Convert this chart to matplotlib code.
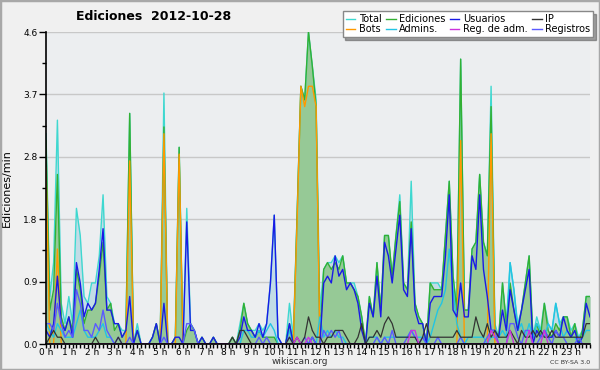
import matplotlib
matplotlib.use("Agg")
import matplotlib.pyplot as plt
from matplotlib.ticker import MultipleLocator, FixedLocator
import numpy as np

# 10-minute slots over the day (144 points)
total = [3.1,0.7,1.2,3.3,0.6,0.3,0.7,0.3,2.0,1.6,0.7,0.6,0.9,0.9,1.3,2.2,0.7,0.6,0.3,0.3,
         0.2,0.2,3.4,0.0,0.3,0.0,0.0,0.0,0.1,0.3,0.0,3.7,0.0,0.0,0.1,2.9,0.0,2.0,0.3,0.2,
         0.0,0.1,0.0,0.0,0.1,0.0,0.0,0.0,0.0,0.1,0.0,0.3,0.6,0.3,0.2,0.2,0.3,0.2,0.3,0.9,
         1.9,0.1,0.0,0.0,0.6,0.1,1.9,3.8,3.6,4.6,4.1,3.6,0.5,1.1,1.2,1.2,1.3,1.2,1.3,0.9,
         0.9,0.9,0.7,0.4,0.0,0.7,0.4,1.2,0.5,1.6,1.6,1.0,1.6,2.2,0.9,0.8,2.4,0.6,0.4,0.3,
         0.0,0.9,0.9,0.9,0.8,1.6,2.4,1.0,0.5,4.2,0.5,0.5,1.4,1.5,2.5,1.5,1.3,3.8,0.3,0.1,
         0.9,0.3,1.2,0.8,0.3,0.5,0.9,1.3,0.1,0.4,0.2,0.6,0.3,0.2,0.6,0.3,0.4,0.4,0.2,0.3,
         0.1,0.2,0.7,0.7]
ediciones = [3.0,0.5,0.8,2.5,0.4,0.2,0.4,0.2,1.1,0.8,0.3,0.5,0.5,0.6,1.0,1.5,0.5,0.6,0.2,0.3,
             0.1,0.2,3.4,0.0,0.2,0.0,0.0,0.0,0.1,0.3,0.0,3.2,0.0,0.0,0.1,2.9,0.0,0.2,0.3,0.2,
             0.0,0.1,0.0,0.0,0.1,0.0,0.0,0.0,0.0,0.1,0.0,0.2,0.6,0.3,0.2,0.1,0.2,0.1,0.1,0.1,
             0.1,0.0,0.0,0.0,0.3,0.0,1.9,3.8,3.6,4.6,4.1,3.5,0.1,1.1,1.2,1.1,1.2,1.1,1.3,0.9,
             0.9,0.8,0.7,0.4,0.0,0.7,0.4,1.2,0.5,1.6,1.6,1.0,1.6,2.1,0.9,0.8,1.8,0.6,0.4,0.3,
             0.0,0.9,0.8,0.8,0.8,1.6,2.4,1.0,0.5,4.2,0.5,0.5,1.4,1.5,2.5,1.5,1.3,3.5,0.2,0.1,
             0.9,0.3,0.9,0.5,0.2,0.5,0.9,1.3,0.1,0.3,0.1,0.6,0.2,0.1,0.3,0.2,0.4,0.4,0.1,0.3,
             0.0,0.2,0.7,0.7]
bots = [2.6,0.0,0.0,1.4,0.0,0.0,0.0,0.0,0.0,0.0,0.0,0.0,0.0,0.0,0.0,0.0,0.0,0.0,0.0,0.0,
        0.0,0.0,2.7,0.0,0.0,0.0,0.0,0.0,0.0,0.0,0.0,3.1,0.0,0.0,0.0,2.8,0.0,0.0,0.0,0.0,
        0.0,0.0,0.0,0.0,0.0,0.0,0.0,0.0,0.0,0.0,0.0,0.0,0.0,0.0,0.0,0.0,0.0,0.0,0.0,0.0,
        0.0,0.0,0.0,0.0,0.0,0.0,1.8,3.8,3.5,3.8,3.8,3.5,0.0,0.0,0.0,0.0,0.0,0.0,0.0,0.0,
        0.0,0.0,0.0,0.0,0.0,0.0,0.0,0.0,0.0,0.0,0.0,0.0,0.0,0.0,0.0,0.0,0.0,0.0,0.0,0.0,
        0.0,0.0,0.0,0.0,0.0,0.0,0.0,0.0,0.0,3.0,0.0,0.0,0.0,0.0,0.0,0.0,0.0,3.1,0.0,0.0,
        0.0,0.0,0.0,0.0,0.0,0.0,0.0,0.0,0.0,0.0,0.0,0.0,0.0,0.0,0.0,0.0,0.0,0.0,0.0,0.0,
        0.0,0.0,0.0,0.0]
usuarios = [0.2,0.1,0.3,1.0,0.3,0.2,0.4,0.1,1.2,0.9,0.4,0.6,0.5,0.6,1.1,1.7,0.5,0.5,0.3,0.3,
            0.1,0.2,0.7,0.0,0.2,0.0,0.0,0.0,0.1,0.3,0.0,0.6,0.0,0.0,0.1,0.1,0.0,1.8,0.2,0.2,
            0.0,0.1,0.0,0.0,0.1,0.0,0.0,0.0,0.0,0.0,0.0,0.1,0.4,0.2,0.2,0.1,0.3,0.1,0.3,0.9,
            1.9,0.1,0.0,0.0,0.3,0.0,0.0,0.0,0.0,0.0,0.1,0.0,0.0,0.9,1.0,0.9,1.3,1.0,1.1,0.8,
            0.9,0.8,0.6,0.2,0.0,0.6,0.4,1.0,0.4,1.5,1.3,0.9,1.4,1.9,0.8,0.7,1.7,0.5,0.3,0.3,
            0.0,0.6,0.7,0.7,0.7,1.3,2.2,0.5,0.4,0.9,0.4,0.4,1.3,1.1,2.2,1.1,0.7,0.2,0.2,0.1,
            0.5,0.2,0.8,0.5,0.2,0.5,0.8,1.1,0.0,0.2,0.1,0.2,0.1,0.1,0.2,0.1,0.4,0.2,0.1,0.2,
            0.0,0.1,0.6,0.4]
ip = [0.0,0.1,0.2,0.1,0.1,0.0,0.0,0.0,0.0,0.0,0.0,0.0,0.0,0.1,0.0,0.0,0.0,0.0,0.0,0.1,
      0.0,0.0,0.0,0.0,0.0,0.0,0.0,0.0,0.0,0.0,0.0,0.0,0.0,0.0,0.0,0.0,0.0,0.0,0.0,0.0,
      0.0,0.0,0.0,0.0,0.0,0.0,0.0,0.0,0.0,0.1,0.0,0.2,0.2,0.1,0.0,0.0,0.0,0.0,0.0,0.0,
      0.0,0.0,0.0,0.0,0.1,0.0,0.1,0.0,0.1,0.4,0.2,0.1,0.1,0.0,0.1,0.1,0.2,0.2,0.2,0.1,
      0.0,0.0,0.1,0.3,0.0,0.1,0.1,0.2,0.1,0.3,0.4,0.3,0.1,0.1,0.1,0.1,0.1,0.1,0.0,0.1,
      0.3,0.1,0.1,0.1,0.1,0.1,0.1,0.1,0.2,0.1,0.1,0.1,0.1,0.4,0.2,0.1,0.3,0.1,0.2,0.1,
      0.1,0.1,0.2,0.1,0.0,0.2,0.1,0.1,0.2,0.1,0.2,0.1,0.1,0.2,0.1,0.1,0.1,0.1,0.1,0.1,
      0.1,0.1,0.3,0.3]
admins = [0.3,0.2,0.1,0.3,0.2,0.1,0.1,0.1,0.3,0.5,0.2,0.1,0.1,0.1,0.2,0.3,0.1,0.1,0.0,0.0,
          0.0,0.0,0.0,0.0,0.0,0.0,0.0,0.0,0.0,0.0,0.0,0.0,0.0,0.0,0.0,0.0,0.0,0.0,0.0,0.0,
          0.0,0.0,0.0,0.0,0.0,0.0,0.0,0.0,0.0,0.0,0.0,0.0,0.2,0.2,0.1,0.1,0.2,0.1,0.2,0.3,
          0.2,0.0,0.0,0.0,0.2,0.0,0.0,0.0,0.0,0.0,0.0,0.0,0.4,0.1,0.2,0.1,0.2,0.1,0.1,0.0,
          0.0,0.0,0.0,0.0,0.0,0.1,0.1,0.1,0.0,0.1,0.1,0.1,0.1,0.1,0.1,0.1,0.2,0.1,0.1,0.1,
          0.0,0.1,0.3,0.5,0.6,0.8,1.4,0.8,0.3,0.1,0.0,0.1,0.1,0.1,0.1,0.1,0.0,0.1,0.1,0.1,
          0.2,0.1,1.2,0.8,0.2,0.3,0.1,0.3,0.1,0.3,0.2,0.1,0.3,0.2,0.6,0.3,0.1,0.2,0.1,0.1,
          0.0,0.1,0.2,0.2]
reg_adm = [0.0]*144
for _i, _v in [(66,0.1),(69,0.1),(96,0.2),(97,0.2),(117,0.2),(118,0.1),(122,0.2),(127,0.2),(131,0.2)]:
    reg_adm[_i] = _v
registros = [0.3,0.3,0.2,0.6,0.3,0.1,0.2,0.1,0.8,0.6,0.2,0.2,0.1,0.3,0.2,0.5,0.2,0.1,0.0,0.1,
             0.0,0.0,0.1,0.0,0.0,0.0,0.0,0.0,0.0,0.0,0.0,0.1,0.0,0.0,0.0,0.0,0.0,0.3,0.3,0.2,
             0.0,0.0,0.0,0.0,0.0,0.0,0.0,0.0,0.0,0.0,0.0,0.0,0.0,0.0,0.0,0.0,0.1,0.0,0.1,0.0,
             0.0,0.0,0.0,0.0,0.1,0.0,0.0,0.0,0.1,0.0,0.1,0.0,0.0,0.2,0.1,0.2,0.1,0.2,0.0,0.0,
             0.0,0.0,0.0,0.0,0.0,0.0,0.0,0.1,0.0,0.1,0.0,0.2,0.0,0.0,0.0,0.1,0.2,0.1,0.0,0.1,
             0.0,0.0,0.0,0.1,0.0,0.0,0.0,0.0,0.0,0.1,0.0,0.0,0.0,0.0,0.0,0.0,0.1,0.2,0.2,0.0,
             0.0,0.0,0.3,0.3,0.1,0.0,0.2,0.2,0.0,0.0,0.1,0.2,0.1,0.0,0.2,0.1,0.1,0.0,0.0,0.0,
             0.1,0.0,0.0,0.0]
hour_labels = [f"{h} h" for h in range(24)]
y_ticks = [0.0, 0.92, 1.84, 2.76, 3.68, 4.6]
y_tick_labels = ["0.0", "0.9", "1.8", "2.8", "3.7", "4.6"]

x = np.arange(len(total))

fig = plt.figure(figsize=(6, 3.7), dpi=100, facecolor="#f0f0f0")
fig.patches.append(plt.Rectangle((0, 0), 1, 1, transform=fig.transFigure,
                                 fill=False, edgecolor="#a8a8a8", linewidth=2.5))
ax = fig.add_axes([46/600, 26/370, 544/600, 312/370])
ax.set_facecolor("#eceef0")

ax.fill_between(x, total, color="#c2dce6", linewidth=0, zorder=1)
ax.fill_between(x, ediciones, color="#96c996", linewidth=0, zorder=2)
ax.plot(x, total, color="#3ed8d0", lw=1.0, zorder=3, label="Total")
ax.plot(x, ediciones, color="#33b033", lw=1.0, zorder=4, label="Ediciones")
ax.plot(x, bots, color="#ff9900", lw=1.0, zorder=5, label="Bots")
ax.plot(x, admins, color="#22c4e4", lw=1.0, zorder=6, label="Admins.")
ax.plot(x, usuarios, color="#1a1ae6", lw=1.0, zorder=7, label="Usuarios")
ax.plot(x, ip, color="#333333", lw=0.9, zorder=8, label="IP")
ax.plot(x, reg_adm, color="#cc33dd", lw=1.0, zorder=9, label="Reg. de adm.")
ax.plot(x, registros, color="#5a5aff", lw=1.0, zorder=7.5, label="Registros")

ax.set_xlim(0, len(total) - 1)
ax.set_ylim(0, 4.6)
ax.set_yticks(y_ticks)
ax.set_yticklabels(y_tick_labels)
ax.yaxis.set_minor_locator(FixedLocator([0.46, 1.38, 2.3, 3.22, 4.14]))
ax.set_xticks(np.arange(0, 144, 6))
ax.set_xticklabels(hour_labels)
ax.xaxis.set_minor_locator(MultipleLocator(1))
ax.tick_params(axis="y", which="major", labelsize=6.5, length=5, width=1, color="black", pad=1)
ax.tick_params(axis="x", which="major", labelsize=6.5, length=3, width=1, color="black", pad=0)
ax.tick_params(axis="both", which="minor", length=3, width=1)
ax.grid(axis="y", color="#c8c8c8", lw=1, zorder=0)
ax.set_axisbelow(True)
for s in ("top", "right"):
    ax.spines[s].set_visible(False)
for s in ("left", "bottom"):
    ax.spines[s].set_linewidth(1.2)
    ax.spines[s].set_zorder(10)

ax.set_ylabel("Ediciones/min", fontsize=8)
ax.yaxis.set_label_coords(-0.062, 0.5)

fig.text(154/600, 1 - 17/370, "Ediciones  2012-10-28", ha="center", va="center",
         fontsize=9, fontweight="bold")
fig.text(300/600, 1 - 362/370, "wikiscan.org", ha="center", va="center", fontsize=6.5, color="#333333")
fig.text(590/600, 1 - 362/370, "CC BY-SA 3.0", ha="right", va="center", fontsize=4.5, color="#333333")

h, l = ax.get_legend_handles_labels()
d = dict(zip(l, h))
order = ["Total", "Bots", "Ediciones", "Admins.", "Usuarios", "Reg. de adm.", "IP", "Registros"]
leg = fig.legend([d[k] for k in order], order, ncol=4, loc="upper right",
                 bbox_to_anchor=(593/600, 1 - 11/370), fontsize=7, frameon=True,
                 fancybox=False, shadow=True, handlelength=1.0, handletextpad=0.35,
                 columnspacing=0.45, labelspacing=0.05, borderpad=0.3, borderaxespad=0)
leg.get_frame().set_edgecolor("#888888")
leg.get_frame().set_facecolor("white")
for line in leg.get_lines():
    line.set_linewidth(1.0)

fig.savefig("out.png", dpi=100, facecolor=fig.get_facecolor())
